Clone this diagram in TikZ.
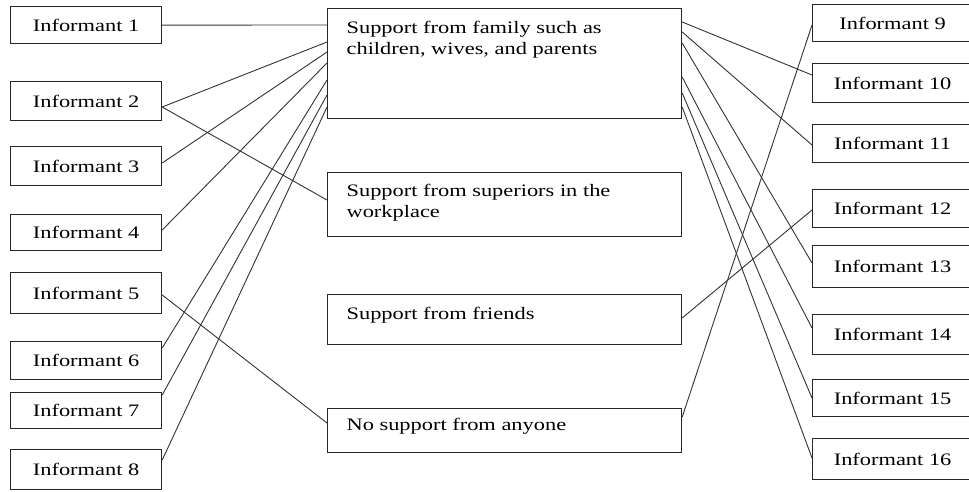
\documentclass[tikz,border=0pt]{standalone}
\usepackage{fontspec}
\setmainfont[FakeStretch=1.28]{Liberation Serif}
\usetikzlibrary{calc}
\begin{document}
\begin{tikzpicture}[x=1pt,y=-1pt,
  box/.style={draw=black!85, line width=1.2pt, anchor=north west, inner sep=0pt,
    font=\fontsize{17.5}{20.5}\selectfont},
  lbox/.style={box, minimum width=151pt},
  rbox/.style={box, minimum width=160pt},
  mbox/.style={box, inner xsep=19pt, inner ysep=0pt},
  link/.style={draw=black!80, line width=0.9pt}]
\clip (0,0) rectangle (969,491);
\fill[white] (0,0) rectangle (969,491);

% left informants
\node[lbox, minimum height=37pt] (i1) at (10,6) {Informant 1};
\node[lbox, minimum height=39pt] (i2) at (10,81) {Informant 2};
\node[lbox, minimum height=39pt] (i3) at (10,146) {Informant 3};
\node[lbox, minimum height=36pt] (i4) at (10,214) {Informant 4};
\node[lbox, minimum height=41pt] (i5) at (10,272) {Informant 5};
\node[lbox, minimum height=38pt] (i6) at (10,341) {Informant 6};
\node[lbox, minimum height=36pt] (i7) at (10,392) {Informant 7};
\node[lbox, minimum height=40pt] (i8) at (10,449) {Informant 8};

% right informants
\node[rbox, minimum height=37pt] (i9) at (812,4) {Informant 9};
\node[rbox, minimum height=39pt] (i10) at (812,63) {Informant 10};
\node[rbox, minimum height=38pt] (i11) at (812,124) {Informant 11};
\node[rbox, minimum height=38pt] (i12) at (812,189) {Informant 12};
\node[rbox, minimum height=42pt] (i13) at (812,245) {Informant 13};
\node[rbox, minimum height=40pt] (i14) at (812,314) {Informant 14};
\node[rbox, minimum height=37pt] (i15) at (812,379) {Informant 15};
\node[rbox, minimum height=41pt] (i16) at (812,438) {Informant 16};

% middle categories
\node[mbox] (fam) at (327,8) {\parbox[t][110pt][t]{316pt}{\raggedright\rule{0pt}{25pt}Support from family such as\\children, wives, and parents}};
\node[mbox] (sup) at (327,172) {\parbox[t][64pt][t]{316pt}{\raggedright\rule{0pt}{24pt}Support from superiors in the\\workplace}};
\node[mbox] (fri) at (327,294) {\parbox[t][50pt][t]{316pt}{\raggedright\rule{0pt}{25pt}Support from friends}};
\node[mbox] (non) at (327,408) {\parbox[t][44pt][t]{316pt}{\raggedright\rule{0pt}{22pt}No support from anyone}};

% left connectors
\draw[link] (i1.east) -- ($(fam.north west)+(0,17)$);
\draw[link] ($(i2.north east)+(0,26)$) -- ($(fam.north west)+(0,34)$);
\draw[link] ($(i2.north east)+(0,26)$) -- ($(sup.north west)+(0,28)$);
\draw[link] ($(i3.north east)+(0,17)$) -- ($(fam.north west)+(0,44)$);
\draw[link] ($(i4.north east)+(0,16)$) -- ($(fam.north west)+(0,55)$);
\draw[link] ($(i5.north east)+(0,23)$) -- ($(non.north west)+(0,15)$);
\draw[link] ($(i6.north east)+(0,7)$) -- ($(fam.north west)+(0,72)$);
\draw[link] ($(i7.north east)+(0,3)$) -- ($(fam.north west)+(0,87)$);
\draw[link] ($(i8.north east)+(0,11)$) -- ($(fam.north west)+(0,99)$);

% right connectors
\draw[link] ($(fam.north east)+(0,14)$) -- ($(i10.north west)+(0,12)$);
\draw[link] ($(fam.north east)+(0,24)$) -- ($(i11.north west)+(0,21)$);
\draw[link] ($(fam.north east)+(0,35)$) -- ($(i13.north west)+(0,18)$);
\draw[link] ($(fam.north east)+(0,69)$) -- ($(i14.north west)+(0,14)$);
\draw[link] ($(fam.north east)+(0,85)$) -- ($(i15.north west)+(0,19)$);
\draw[link] ($(fam.north east)+(0,99)$) -- ($(i16.north west)+(0,20)$);
\draw[link] ($(fri.north east)+(0,24)$) -- ($(i12.north west)+(0,21)$);
\draw[link] ($(non.north east)+(0,9)$) -- ($(i9.north west)+(0,21)$);
\end{tikzpicture}
\end{document}
